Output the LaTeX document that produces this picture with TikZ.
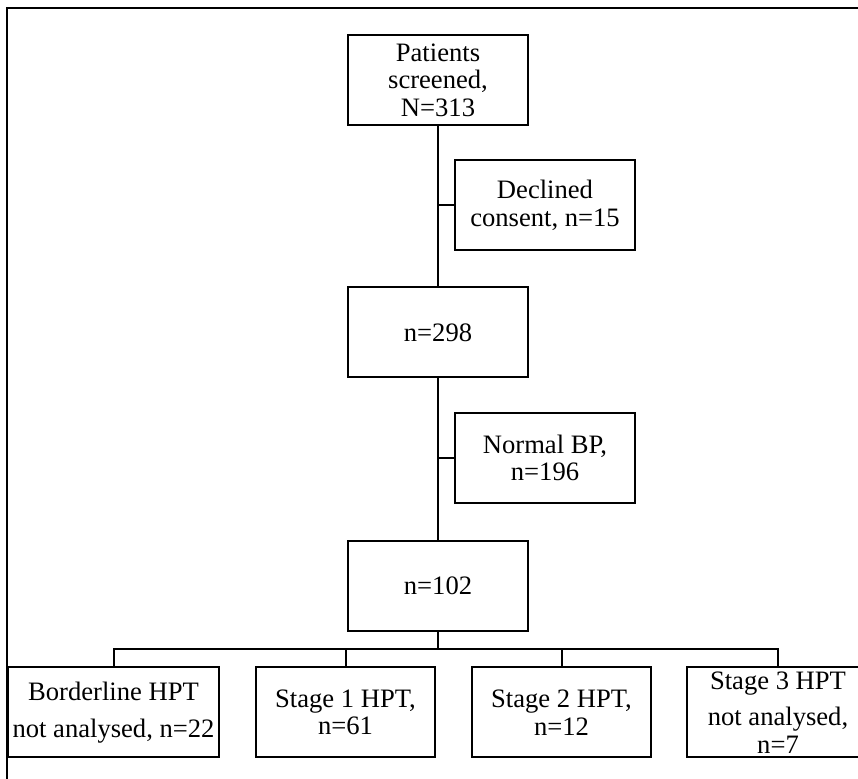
\documentclass[tikz,border=0pt]{standalone}
\usepackage{fontspec}
\setmainfont{Liberation Serif}
\usetikzlibrary{calc}

\tikzset{
  box/.style={draw, rectangle, align=center, inner sep=0pt,
    minimum width=90pt, minimum height=45pt,
    font=\fontsize{13.3}{13.8}\selectfont},
  leaf/.style={box}
}

\begin{document}
\begin{tikzpicture}[x=0.5pt, y=-0.5pt, line width=1pt]

  \useasboundingbox (0, 0) rectangle (858, 779);
  \draw (7, 779) -- (7, 8) -- (858, 8);

  \node[box] (screen) at (438, 80) {Patients\\screened,\\N=313};
  \node[box] (declined) at (545, 205.5) {Declined\\consent, n=15};
  \node[box] (p298) at (438, 332.5) {n=298};
  \node[box] (normal) at (545, 458) {Normal BP,\\n=196};
  \node[box] (p102) at (438, 586) {n=102};

  % bottom row
  \foreach \name/\x/\w/\txt in {
    bl/113.5/105.5/{Borderline HPT\\[5pt]not analysed, n=22},
    s1/345.5/89.5/{Stage 1 HPT,\\n=61},
    s2/561.5/89.5/{Stage 2 HPT,\\n=12},
    s3/778/91/{Stage 3 HPT\\[4.5pt]not analysed,\\n=7}} {
    \node[leaf, minimum width=\w pt] (\name) at (\x, 712.5) {\txt};
  }

  \draw (screen.south) -- (p298.north);
  \draw (declined.west) -- (declined.west -| screen.south);
  \draw (p298.south) -- (p102.north);
  \draw (normal.west) -- (normal.west -| p298.south);

  \coordinate (bus) at (438, 649);
  \draw (p102.south) -- (bus);
  \foreach \n in {bl, s1, s2, s3}
    \draw (bus) -| (\n.north);

\end{tikzpicture}
\end{document}
